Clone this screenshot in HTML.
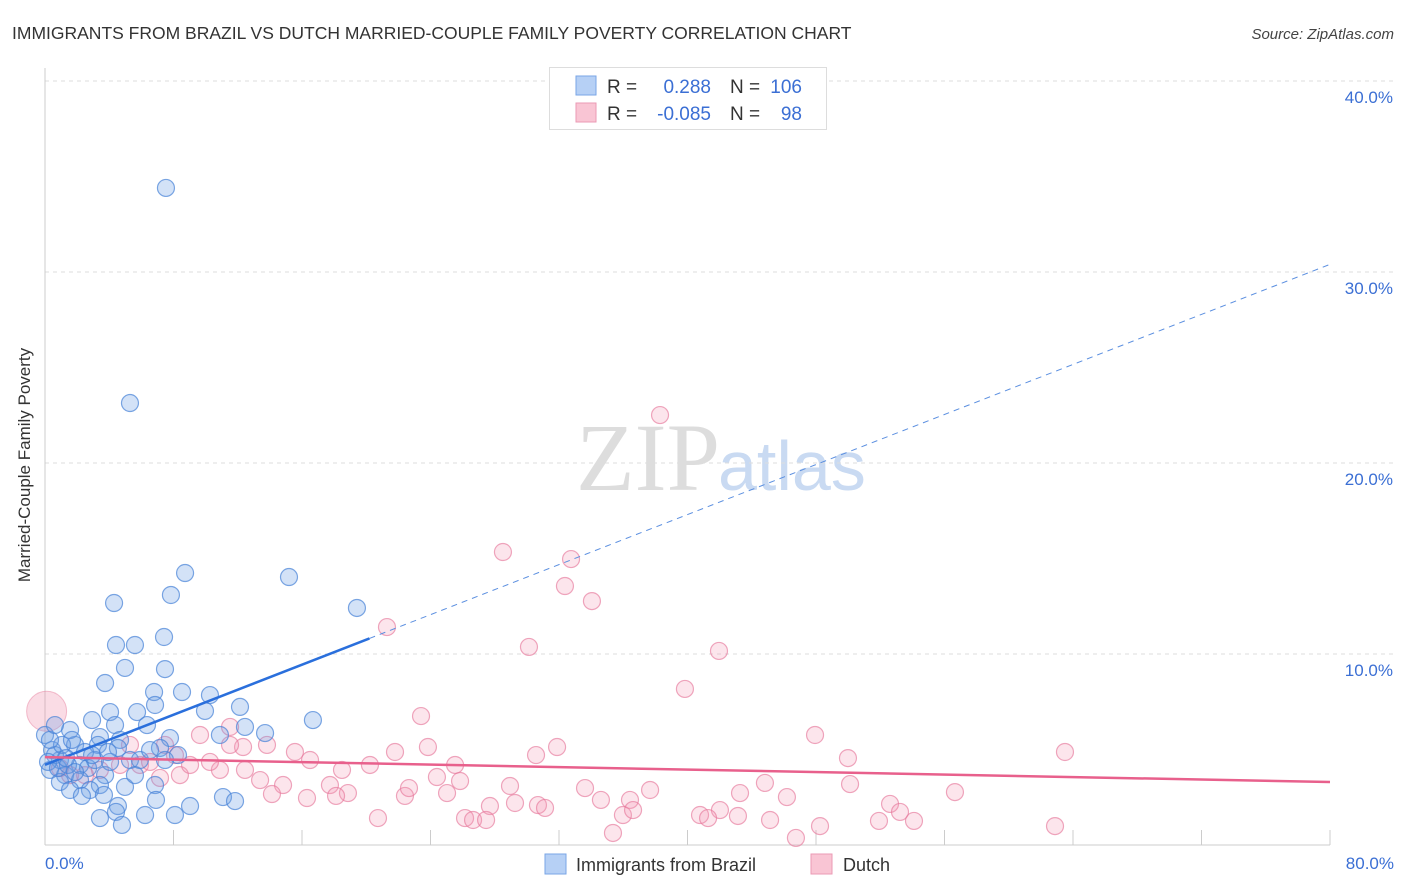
<!DOCTYPE html>
<html><head><meta charset="utf-8"><style>
body{margin:0;background:#fff;font-family:"Liberation Sans",sans-serif}
svg{display:block}
</style></head><body>
<svg width="1406" height="892" id="c">
<text x="12" y="39" font-size="17.5" fill="#333">IMMIGRANTS FROM BRAZIL VS DUTCH MARRIED-COUPLE FAMILY POVERTY CORRELATION CHART</text>
<text x="1394" y="39" font-size="15" fill="#444" text-anchor="end" font-style="italic">Source: ZipAtlas.com</text>
<text x="720" y="490" font-size="96" fill="#ddd" text-anchor="end" font-family="Liberation Serif,serif">ZIP</text>
<text x="718" y="490" font-size="70" fill="#c9daf2">atlas</text>
<g id="grid"></g>
<line x1="45" y1="68" x2="45" y2="845" stroke="#ccc"/>
<line x1="45" y1="845" x2="1330" y2="845" stroke="#ccc"/>
<text x="20" y="455" font-size="17" fill="#333" text-anchor="middle" transform="rotate(-90 30 455)">Married-Couple Family Poverty</text>
<text x="45" y="869" font-size="17" fill="#3b6fd4">0.0%</text>
<text x="1394" y="869" font-size="17" fill="#3b6fd4" text-anchor="end">80.0%</text>
<g id="pts"></g>
<g id="trend"></g>
<g>
<rect x="549.500" y="67.500" width="277" height="62" fill="#fff" stroke="#ddd"/>
<rect x="576" y="76" width="20" height="19" fill="#b6d0f5" stroke="#7aa6e6"/>
<rect x="576" y="103" width="20" height="19" fill="#f9c5d4" stroke="#eb9ab4"/>
<text x="607" y="93" font-size="19" fill="#333">R = </text>
<text x="711" y="93" font-size="19" fill="#3b6fd4" text-anchor="end">0.288</text>
<text x="730" y="93" font-size="19" fill="#333">N = </text>
<text x="802" y="93" font-size="19" fill="#3b6fd4" text-anchor="end">106</text>
<text x="607" y="120" font-size="19" fill="#333">R = </text>
<text x="711" y="120" font-size="19" fill="#3b6fd4" text-anchor="end">-0.085</text>
<text x="730" y="120" font-size="19" fill="#333">N = </text>
<text x="802" y="120" font-size="19" fill="#3b6fd4" text-anchor="end">98</text>
</g>
<g>
<rect x="545" y="854" width="21" height="20" fill="#b6d0f5" stroke="#7aa6e6"/>
<text x="576" y="871" font-size="18" fill="#333">Immigrants from Brazil</text>
<rect x="811" y="854" width="21" height="20" fill="#f9c5d4" stroke="#eb9ab4"/>
<text x="843" y="871" font-size="18" fill="#333">Dutch</text>
</g>
</svg>
<script>
const yTicks=[10,20,30,40];
const yTickLabels=["10.0%","20.0%","30.0%","40.0%"];
const xTicks=[8,16,24,32,40,48,56,64,72,80];
const bluePx=[[166,188],[130,403],[185,573],[289,577],[114,603],[171,595],[357,608],[116,645],[135,645],[164,637],[125,668],[165,669],[105,683],[154,692],[182,692],[210,695],[110,712],[137,712],[155,705],[205,711],[240,707],[92,720],[115,725],[147,725],[313,720],[220,735],[265,733],[100,737],[120,740],[170,738],[245,727],[160,748],[178,755],[118,748],[75,745],[98,745],[130,760],[140,760],[60,760],[80,765],[88,768],[50,770],[65,775],[105,775],[45,735],[52,750],[70,730],[55,755],[95,760],[110,762],[60,782],[80,780],[100,785],[125,787],[155,785],[90,790],[70,790],[82,796],[104,795],[118,806],[156,800],[190,806],[223,797],[235,801],[116,812],[100,818],[145,815],[175,815],[122,825],[48,762],[58,768],[68,765],[75,772],[85,752],[62,745],[92,755],[108,752],[150,750],[165,760],[135,775],[50,740],[55,725],[72,740],[66,758]];
const pinkPx=[[660,415],[503,552],[571,559],[565,586],[592,601],[387,627],[529,647],[719,651],[685,689],[421,716],[815,735],[1065,752],[848,758],[557,747],[395,752],[428,747],[200,735],[230,727],[243,747],[267,745],[295,752],[310,760],[342,770],[370,765],[455,765],[536,755],[260,780],[283,785],[330,785],[348,793],[437,777],[460,781],[510,786],[585,788],[630,800],[650,790],[740,793],[765,783],[787,797],[850,784],[890,804],[900,812],[955,792],[272,794],[307,798],[336,796],[405,796],[409,788],[447,793],[490,806],[515,803],[538,805],[545,808],[601,800],[623,815],[633,810],[720,810],[700,815],[708,818],[738,816],[770,820],[879,821],[914,821],[465,818],[473,820],[486,820],[613,833],[796,838],[820,826],[1055,826],[378,818],[245,770],[220,770],[180,775],[160,778],[140,765],[120,765],[100,770],[85,775],[70,775],[60,768],[130,745],[150,762],[210,762],[175,755],[190,765],[165,745],[230,745]];
// convert pixel readings to data values (percent)
const blueX=bluePx.map(p=>+((p[0]-45)/16.0625).toFixed(2));
const blueY=bluePx.map(p=>+((845-p[1])/19.1).toFixed(2));
const pinkX=pinkPx.map(p=>+((p[0]-45)/16.0625).toFixed(2));
const pinkY=pinkPx.map(p=>+((845-p[1])/19.1).toFixed(2));
const blueTrend=[4.2,0.3275];
const pinkTrend=[4.6,-0.0163];
const NS="http://www.w3.org/2000/svg";
const sx=v=>45+v*1285/80, sy=v=>845-v*19.1;
function mk(t,a,p){const e=document.createElementNS(NS,t);for(const k in a)e.setAttribute(k,a[k]);p.appendChild(e);return e;}
const grid=document.getElementById('grid');
yTicks.forEach((v,i)=>{
 const l=mk('line',{x1:45,x2:1394,y1:sy(v),y2:sy(v),stroke:'#ddd','stroke-dasharray':'4 4'},grid);
 
 
 const t=mk('text',{x:1393,y:sy(v)+22,'font-size':17,fill:'#3b6fd4','text-anchor':'end'},grid);
 t.textContent=yTickLabels[i];
 
 
});
xTicks.forEach(v=>{
 const l=mk('line',{x1:sx(v),x2:sx(v),y1:830,y2:845,stroke:'#ccc'},grid);
 
 
});
const pts=document.getElementById('pts');
const big=mk('circle',{cx:sx(0.1),cy:sy(7),r:20,fill:'rgba(240,140,170,0.3)',stroke:'rgba(232,130,160,0.5)'},pts);


pinkX.forEach((x,i)=>{
 const c=mk('circle',{cx:sx(x),cy:sy(pinkY[i]),r:8.5,fill:'rgba(245,150,180,0.25)',stroke:'rgba(230,120,155,0.65)','stroke-width':1.2},pts);
 
 
});
blueX.forEach((x,i)=>{
 const c=mk('circle',{cx:sx(x),cy:sy(blueY[i]),r:8.5,fill:'rgba(110,160,230,0.3)',stroke:'rgba(70,130,215,0.7)','stroke-width':1.2},pts);
 
 
});
const tr=document.getElementById('trend');
const bx=20.2;
let l=mk('line',{x1:sx(0),y1:sy(blueTrend[0]),x2:sx(bx),y2:sy(blueTrend[0]+blueTrend[1]*bx),stroke:'#2a6fdc','stroke-width':2.5},tr);


l=mk('line',{x1:sx(bx),y1:sy(blueTrend[0]+blueTrend[1]*bx),x2:sx(80),y2:sy(blueTrend[0]+blueTrend[1]*80),stroke:'#5b8fe0','stroke-width':1,'stroke-dasharray':'6 5'},tr);


l=mk('line',{x1:sx(0),y1:sy(pinkTrend[0]),x2:sx(80),y2:sy(pinkTrend[0]+pinkTrend[1]*80),stroke:'#e8608c','stroke-width':2.5},tr);


</script>
</body></html>
